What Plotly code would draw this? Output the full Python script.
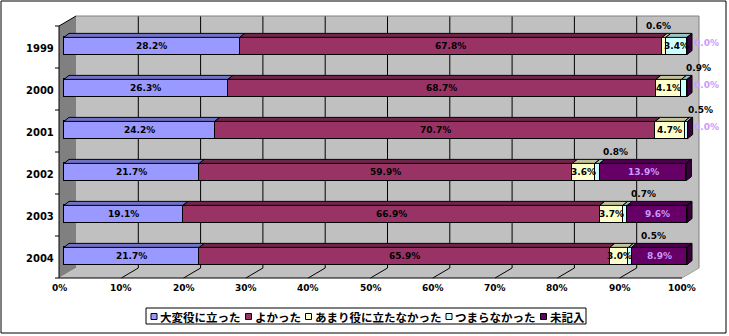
import plotly.graph_objects as go

# ---------------- data ----------------
years = ["1999", "2000", "2001", "2002", "2003", "2004"]
series_names = ["大変役に立った", "よかった", "あまり役に立たなかった", "つまらなかった", "未記入"]
very_useful = [28.2, 26.3, 24.2, 21.7, 19.1, 21.7]
good = [67.8, 68.7, 70.7, 59.9, 66.9, 65.9]
not_useful = [0.6, 4.1, 4.7, 3.6, 3.7, 3.0]
boring = [3.4, 0.9, 0.5, 0.8, 0.7, 0.5]
no_answer = [0.0, 0.0, 0.0, 13.9, 9.6, 8.9]
x_ticks = [0, 10, 20, 30, 40, 50, 60, 70, 80, 90, 100]
x_tick_labels = ["0%", "10%", "20%", "30%", "40%", "50%", "60%", "70%", "80%", "90%", "100%"]

# ---------------- styles ----------------
front_colors = ["#9999FF", "#993366", "#FFFFCC", "#CCFFFF", "#660066"]
top_colors = ["#7272C4", "#70254B", "#C4C49C", "#9CC4C4", "#4A004A"]
side_color = "#3A003A"
label_colors = ["black", "black", "black", "black", "#CC99FF"]
small_label_dx_px = [-5, 14, 14, 18, 18, 23]   # manual offsets of tiny labels

W, H = 729, 336
PX_PER_PCT = 6.23
PX_PER_CAT = 42.0
BAR0_PX = 64.0
LASTCAT_PX = 256.0
BAR_W = 0.41


def dxu(px):
    return px / PX_PER_PCT


def dyu(px):
    return -px / PX_PER_CAT


n = len(years)
vals = [very_useful, good, not_useful, boring, no_answer]
ypos = [n - 1 - i for i in range(n)]

BDX, BDY = dxu(5), dyu(-4)      # bar depth
FDX, FDY = dxu(-5), dyu(1)      # front plane relative to bar faces
KDX, KDY = dxu(12), dyu(-9)     # back plane relative to bar faces
y_lo, y_hi = -0.5, n - 0.5

fig = go.Figure()

# front faces of the stacked bars
for s, name in enumerate(series_names):
    fig.add_trace(go.Bar(
        y=ypos, x=vals[s], orientation="h", width=BAR_W, name=name,
        marker=dict(color=front_colors[s], line=dict(color="black", width=1)),
        showlegend=False, hoverinfo="skip"))

# top faces
cum = [0.0] * n
for s in range(len(series_names)):
    xs, ys = [], []
    for i in range(n):
        a = cum[i]
        b = a + vals[s][i]
        if vals[s][i] > 0:
            t = ypos[i] + BAR_W / 2
            xs += [a, b, b + BDX, a + BDX, a, None]
            ys += [t, t, t + BDY, t + BDY, t, None]
        cum[i] = b
    fig.add_trace(go.Scatter(x=xs, y=ys, mode="lines", fill="toself",
                             fillcolor=top_colors[s],
                             line=dict(color="black", width=1),
                             showlegend=False, hoverinfo="skip"))

# right side faces
xs, ys = [], []
for i in range(n):
    T = cum[i]
    lo, hi = ypos[i] - BAR_W / 2, ypos[i] + BAR_W / 2
    xs += [T, T, T + BDX, T + BDX, T, None]
    ys += [lo, hi, hi + BDY, lo + BDY, lo, None]
fig.add_trace(go.Scatter(x=xs, y=ys, mode="lines", fill="toself", fillcolor=side_color,
                         line=dict(color="black", width=1), showlegend=False, hoverinfo="skip"))

shapes = []
# back wall
shapes.append(dict(type="rect", xref="x", yref="y", layer="below",
                   x0=0 + KDX, x1=100 + KDX, y0=y_lo + KDY, y1=y_hi + KDY,
                   fillcolor="#C0C0C0", line=dict(width=0)))
# left wall
shapes.append(dict(type="path", xref="x", yref="y", layer="below",
                   path=f"M {FDX},{y_hi+FDY} L {KDX},{y_hi+KDY} L {KDX},{y_lo+KDY} L {FDX},{y_lo+FDY} Z",
                   fillcolor="#808080", line=dict(width=0)))
# floor
shapes.append(dict(type="path", xref="x", yref="y", layer="below",
                   path=f"M {FDX},{y_lo+FDY} L {100+FDX},{y_lo+FDY} L {100+KDX},{y_lo+KDY} L {KDX},{y_lo+KDY} Z",
                   fillcolor="#C0C0C0", line=dict(width=0)))


def seg(x0, y0, x1, y1, color="black"):
    return dict(type="line", xref="x", yref="y", layer="below",
                x0=x0, y0=y0, x1=x1, y1=y1, line=dict(color=color, width=1))


for t in x_ticks[1:-1]:
    shapes.append(seg(t + KDX, y_lo + KDY, t + KDX, y_hi + KDY))
    shapes.append(seg(t + FDX, y_lo + FDY, t + KDX, y_lo + KDY))
# wall outlines
shapes.append(seg(KDX, y_hi + KDY, 100 + KDX, y_hi + KDY, "#808080"))
shapes.append(seg(100 + KDX, y_hi + KDY, 100 + KDX, y_lo + KDY, "#808080"))
shapes.append(seg(100 + FDX, y_lo + FDY, 100 + KDX, y_lo + KDY, "#A0A0A0"))
shapes.append(seg(FDX, y_lo + FDY, 100 + FDX, y_lo + FDY))
shapes.append(seg(FDX, y_lo + FDY, FDX, y_hi + FDY))
shapes.append(seg(FDX, y_hi + FDY, KDX, y_hi + KDY))
for k in range(n + 1):
    v = k - 0.5 + FDY
    shapes.append(seg(FDX - dxu(4), v, FDX, v))

# outer chart border
shapes.append(dict(type="rect", xref="paper", yref="paper",
                   x0=1 / W, x1=726 / W, y0=1 - 333 / H, y1=1 - 1 / H,
                   line=dict(color="black", width=1), fillcolor="rgba(0,0,0,0)"))

annotations = []
lab_font = dict(family="DejaVu Sans", size=9, weight="bold")

# category labels
for i, yr in enumerate(years):
    annotations.append(dict(x=FDX - dxu(3), y=ypos[i] + FDY + dyu(1), xref="x", yref="y",
                            text=yr, showarrow=False, xanchor="right", yanchor="middle",
                            font=dict(family="DejaVu Sans", size=10, weight="bold", color="black")))
# value-axis labels
for t, lab in zip(x_ticks, x_tick_labels):
    annotations.append(dict(x=t + FDX, y=y_lo + FDY + dyu(10), xref="x", yref="y",
                            text=lab, showarrow=False, xanchor="center", yanchor="middle",
                            font=dict(lab_font, color="black")))

# data labels
cum = [0.0] * n
for s in range(len(series_names)):
    for i in range(n):
        v = vals[s][i]
        a = cum[i]
        b = a + v
        cum[i] = b
        txt = f"{v:.1f}%"
        if v == 0:
            continue
        if v < 1:
            x = (a + b) / 2 + dxu(small_label_dx_px[i])
            y = ypos[i] + dyu(-20)
        else:
            x = (a + b) / 2
            y = ypos[i]
        annotations.append(dict(x=x, y=y, xref="x", yref="y", text=txt, showarrow=False,
                                xanchor="center", yanchor="middle",
                                font=dict(lab_font, color=label_colors[s])))
# zero labels of the last series
for i in range(n):
    if no_answer[i] == 0:
        annotations.append(dict(x=cum[i] + dxu(19), y=ypos[i] + dyu(-3), xref="x", yref="y",
                                text=f"{no_answer[i]:.1f}%", showarrow=False,
                                xanchor="center", yanchor="middle",
                                font=dict(lab_font, color=label_colors[4])))

# manual legend
LEG_FS = 11.5
leg_left, leg_top, leg_bot = 146, 308, 324
cx = 151
mid = (leg_top + leg_bot) / 2 + 0.5
for s, name in enumerate(series_names):
    shapes.append(dict(type="rect", xref="paper", yref="paper",
                       x0=cx / W, x1=(cx + 6) / W, y0=1 - (mid + 3) / H, y1=1 - (mid - 3) / H,
                       fillcolor=front_colors[s], line=dict(color="black", width=1)))
    tx = cx + 7
    annotations.append(dict(x=tx / W, y=1 - (mid + 0.5) / H, xref="paper", yref="paper",
                            text=name, showarrow=False, xanchor="left", yanchor="middle",
                            font=dict(family="Noto Sans CJK JP", size=LEG_FS, weight="bold",
                                      color="black")))
    cx = tx + len(name) * LEG_FS + 7
leg_right = cx - 3
shapes.append(dict(type="rect", xref="paper", yref="paper",
                   x0=leg_left / W, x1=leg_right / W, y0=1 - leg_bot / H, y1=1 - leg_top / H,
                   line=dict(color="black", width=1), fillcolor="rgba(0,0,0,0)"))

fig.update_layout(
    width=W, height=H, autosize=False,
    margin=dict(l=0, r=0, t=0, b=0, pad=0),
    paper_bgcolor="white", plot_bgcolor="white",
    barmode="stack", bargap=0, showlegend=False,
    xaxis=dict(range=[-BAR0_PX / PX_PER_PCT, (W - BAR0_PX) / PX_PER_PCT],
               visible=False, fixedrange=True),
    yaxis=dict(range=[-(H - LASTCAT_PX) / PX_PER_CAT, LASTCAT_PX / PX_PER_CAT],
               visible=False, fixedrange=True),
    shapes=shapes, annotations=annotations,
)

fig.write_html("out.html")
